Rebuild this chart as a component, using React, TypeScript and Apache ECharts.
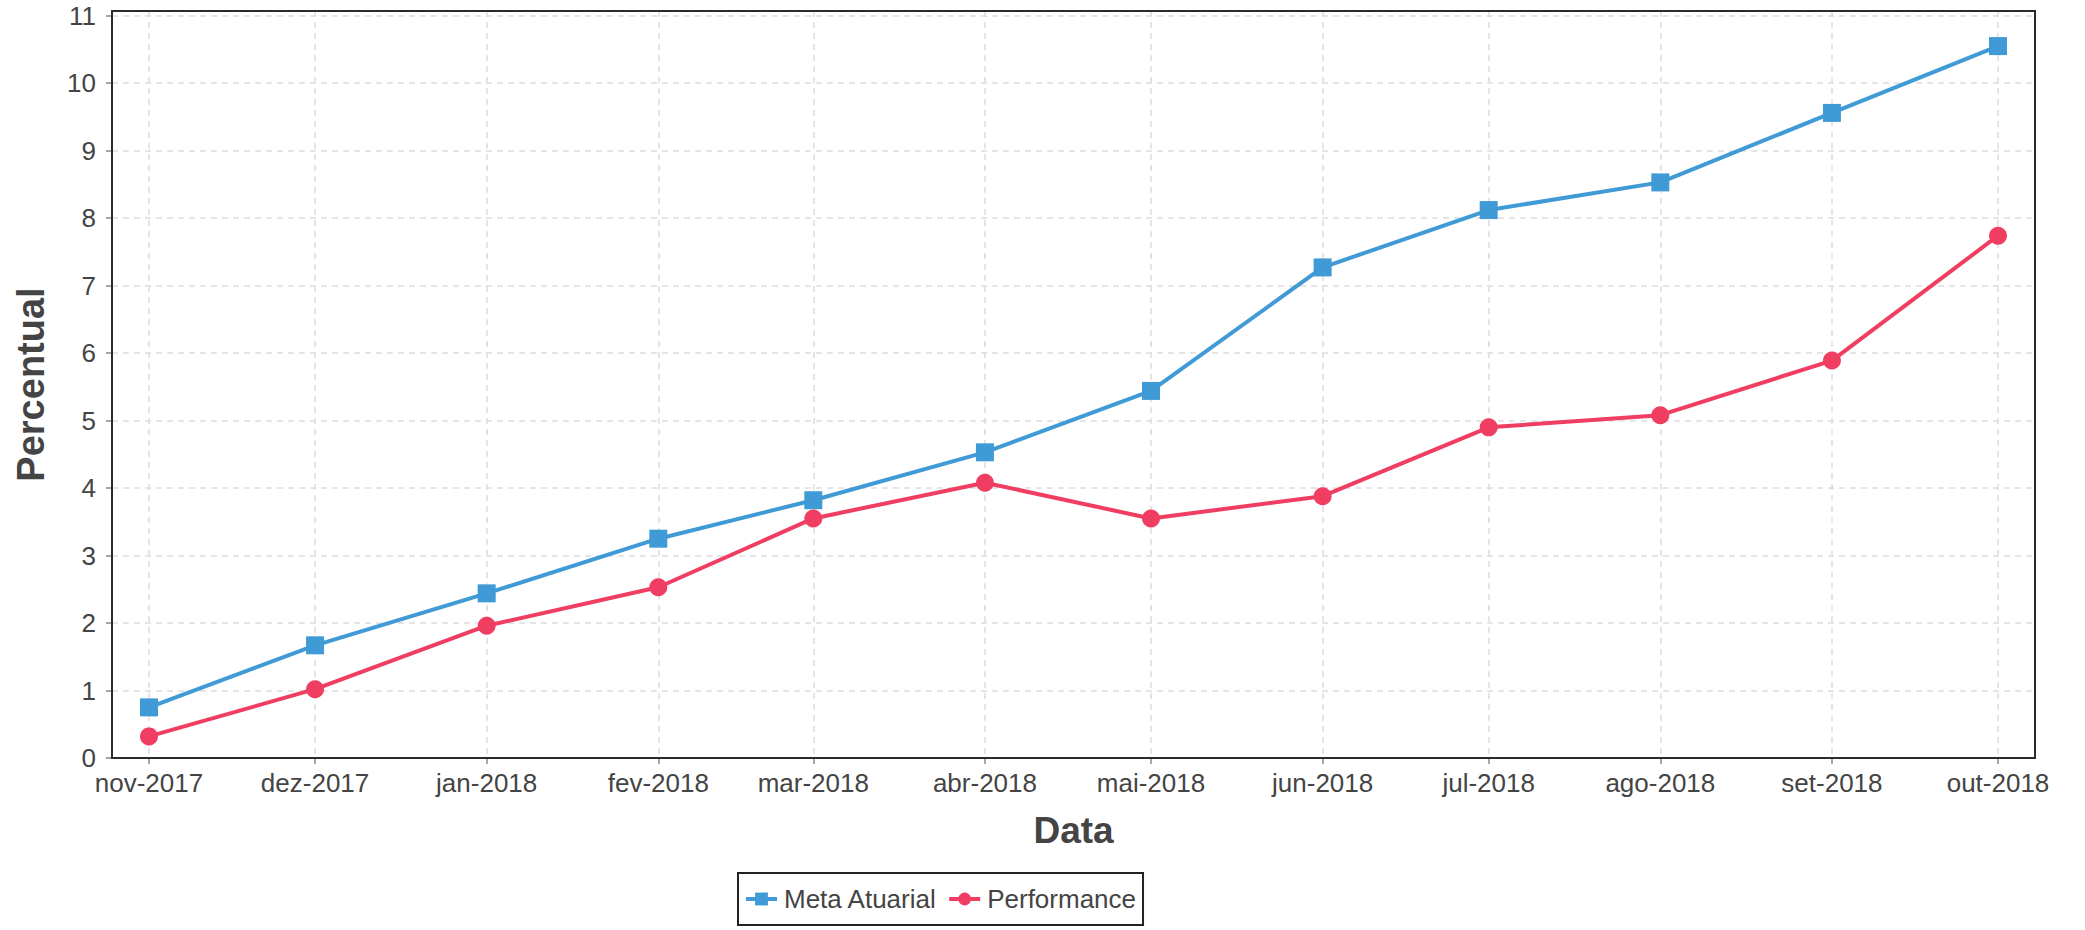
import React, { useEffect, useRef } from "react";
import * as echarts from "echarts";

const monthLabels = [
  "nov-2017", "dez-2017", "jan-2018", "fev-2018", "mar-2018", "abr-2018",
  "mai-2018", "jun-2018", "jul-2018", "ago-2018", "set-2018", "out-2018",
];
const monthDates = [
  "2017-11-01", "2017-12-01", "2018-01-01", "2018-02-01", "2018-03-01", "2018-04-01",
  "2018-05-01", "2018-06-01", "2018-07-01", "2018-08-01", "2018-09-01", "2018-10-01",
];
const metaAtuarial = [0.75, 1.67, 2.44, 3.25, 3.82, 4.53, 5.44, 7.27, 8.12, 8.53, 9.56, 10.55];
const performance = [0.32, 1.02, 1.96, 2.53, 3.55, 4.08, 3.55, 3.88, 4.9, 5.08, 5.89, 7.74];
const yTicks = [0, 1, 2, 3, 4, 5, 6, 7, 8, 9, 10, 11];
const yMax = 11.07;

const BLUE = "#3f9ad6";
const RED = "#f03d62";
const TEXT = "#444444";
const FONT = "Liberation Sans, Arial, sans-serif";

function ts(d: string): number {
  const [y, m, day] = d.split("-").map(Number);
  return Date.UTC(y, m - 1, day);
}

export default function App() {
  const ref = useRef<HTMLDivElement>(null);

  useEffect(() => {
    if (!ref.current) return;
    const chart = echarts.init(ref.current, undefined, { renderer: "svg" });
    const xs = monthDates.map(ts);
    const pad = (xs[xs.length - 1] - xs[0]) * 0.02;
    const labelFor = (v: number) => {
      const i = xs.findIndex((x) => Math.abs(x - v) < 1000);
      return i >= 0 ? monthLabels[i] : "";
    };
    const dash = { color: "#dddddd", width: 1.5, type: [6, 5] as any };

    const gridLeft = 112;
    const gridRight = 50;
    const gridTop = 11;
    const gridBottom = 172;

    chart.setOption({
      animation: false,
      backgroundColor: "#ffffff",
      grid: {
        left: gridLeft,
        right: gridRight,
        top: gridTop,
        bottom: gridBottom,
        show: false,
      },
      graphic: [
        {
          type: "rect",
          z: 100,
          silent: true,
          shape: {
            x: gridLeft,
            y: gridTop,
            width: 2085 - gridLeft - gridRight,
            height: 930 - gridTop - gridBottom,
          },
          style: { fill: "none", stroke: "#2b2b2b", lineWidth: 2 },
        },
      ],
      xAxis: {
        type: "value",
        min: xs[0] - pad,
        max: xs[xs.length - 1] + pad,
        name: "Data",
        nameLocation: "middle",
        nameGap: 54,
        nameTextStyle: {
          fontFamily: FONT,
          fontWeight: "bold",
          fontSize: 37,
          color: TEXT,
        },
        axisLine: { show: false },
        axisTick: {
          show: true,
          length: 6,
          lineStyle: { color: "#888888", width: 1.5 },
          customValues: xs,
        },
        axisLabel: {
          customValues: xs,
          formatter: (v: number) => labelFor(v),
          fontFamily: FONT,
          fontSize: 26,
          color: TEXT,
          margin: 12,
        },
        splitLine: { show: true, lineStyle: dash },
      },
      yAxis: {
        type: "value",
        min: 0,
        max: yMax,
        name: "Percentual",
        nameLocation: "middle",
        nameRotate: 90,
        nameGap: 62,
        nameTextStyle: {
          fontFamily: FONT,
          fontWeight: "bold",
          fontSize: 38,
          color: TEXT,
        },
        axisLine: { show: false },
        axisTick: {
          show: true,
          length: 6,
          lineStyle: { color: "#888888", width: 1.5 },
          customValues: yTicks,
        },
        axisLabel: {
          customValues: yTicks,
          fontFamily: FONT,
          fontSize: 26,
          color: TEXT,
          margin: 16,
        },
        splitLine: { show: true, lineStyle: dash },
      },
      legend: {
        left: 738,
        top: 873,
        orient: "horizontal",
        padding: [13, 7, 13, 6],
        itemGap: 10,
        itemWidth: 31,
        itemHeight: 16,
        borderColor: "#222222",
        borderWidth: 2,
        borderRadius: 0,
        lineStyle: { width: 4 },
        textStyle: {
          fontFamily: FONT,
          fontSize: 26,
          color: TEXT,
          padding: [0, 0, 0, 2],
        },
        data: ["Meta Atuarial", "Performance"],
      },
      series: [
        {
          name: "Meta Atuarial",
          type: "line",
          data: xs.map((x, i) => [x, metaAtuarial[i]]),
          symbol: "rect",
          symbolSize: 18,
          lineStyle: { color: BLUE, width: 4 },
          itemStyle: { color: BLUE },
          z: 3,
        },
        {
          name: "Performance",
          type: "line",
          data: xs.map((x, i) => [x, performance[i]]),
          symbol: "circle",
          symbolSize: 18,
          lineStyle: { color: RED, width: 4 },
          itemStyle: { color: RED },
          z: 4,
        },
      ],
    });

    return () => chart.dispose();
  }, []);

  return (
    <div
      ref={ref}
      style={{ position: "fixed", left: 0, top: 0, width: 2085, height: 930 }}
    />
  );
}
